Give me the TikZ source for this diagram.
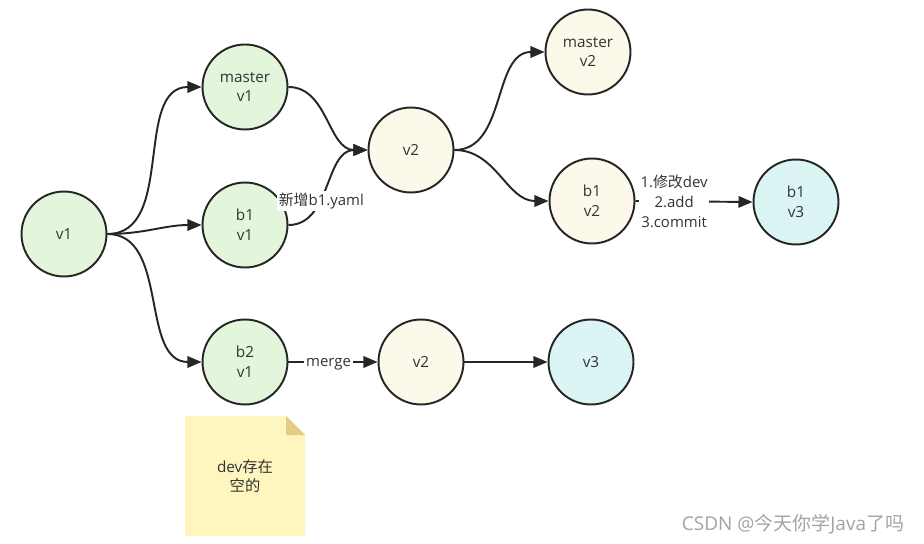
\documentclass[tikz,border=0pt]{standalone}
\usepackage{fontspec}
\setmainfont{Open Sans}
\newfontfamily\cjk{Noto Sans CJK SC}
\usepackage{tikz}
\usetikzlibrary{
    positioning,
    arrows.meta
}
\definecolor{greenfill}{HTML}{E3F5DB}
\definecolor{beigefill}{HTML}{FCF8EA}
\definecolor{cyanfill}{HTML}{DBF4F4}
\definecolor{notefill}{HTML}{FFF5BF}
\definecolor{foldfill}{HTML}{E3CD86}
\definecolor{linegray}{HTML}{262626}
\definecolor{textgray}{HTML}{333333}
\definecolor{markgray}{HTML}{A3A3A3}
\tikzset{
  commit/.style = {
      draw=linegray,
      circle,
      line width=1.1pt,
      minimum size=1.7cm,
      inner sep=0pt,
      align=center,
      text=textgray,
      font=\fontsize{8.7}{11.3}\selectfont
  },
  oldcommit/.style = {
      commit,
      fill=greenfill
  },
  midcommit/.style = {
      commit,
      fill=beigefill
  },
  newcommit/.style = {
      commit,
      fill=cyanfill
  },
  edge/.style = {
      draw=linegray,
      line width=1.1pt,
      -{Triangle[length=8pt,width=6.5pt]}
  },
  tag/.style = {
      fill=white,
      inner sep=1pt,
      align=center,
      text=textgray,
      font=\fontsize{8.5}{11.3}\selectfont
  },
  notetext/.style = {
      align=center,
      text=textgray,
      font=\fontsize{8.7}{11.3}\selectfont
  },
  wmark/.style = {
      text=markgray,
      font=\fontsize{10.8}{13}\selectfont
  }
}

\begin{document}
\begin{tikzpicture}[x=0.02cm, y=-0.02cm]
    \useasboundingbox (0,0) rectangle (924,544);
    % Nodes
    \node[oldcommit] (v1) at (64,234) {v1};
    \node[oldcommit] (m1) at (245,87) {master\\v1};
    \node[oldcommit] (b11) at (245,225) {b1\\v1};
    \node[oldcommit] (b21) at (245,362) {b2\\v1};
    \node[midcommit] (v2a) at (411,150) {v2};
    \node[midcommit] (m2) at (588,52) {master\\v2};
    \node[midcommit] (b12) at (592,201) {b1\\v2};
    \node[newcommit] (b13) at (796,202) {b1\\v3};
    \node[midcommit] (v2b) at (421,362) {v2};
    \node[newcommit] (v3) at (591,362) {v3};
    % Note
    \fill[notefill] (185,416) -- (286,416) -- (305,435) -- (305,536) -- (185,536) -- cycle;
    \fill[foldfill] (286,416) -- (305,435) -- (286,435) -- cycle;
    \node[notetext] (note) at (245,476) {dev{\cjk 存在}\\{\cjk 空的}};
    \node[wmark] (mark) at (793,524) {CSDN @{\cjk 今天你学}Java{\cjk 了吗}};
    % Edges
    \draw[edge] (v1.east) to[out=0, in=180] (m1.west);
    \draw[edge] (v1.east) to[out=0, in=180] (b11.west);
    \draw[edge] (v1.east) to[out=0, in=180] (b21.west);
    \draw[edge] (m1.east) to[out=0, in=180] (v2a.west);
    \draw[edge] (b11.east) to[out=0, in=180] node[tag, pos=0.38] {{\cjk 新增}b1.yaml} (v2a.west);
    \draw[edge] (v2a.east) to[out=0, in=180] (m2.west);
    \draw[edge] (v2a.east) to[out=0, in=180] (b12.west);
    \draw[edge] (b12.east) -- node[tag, pos=0.33] {1.{\cjk 修改}dev\\2.add\\3.commit} (b13.west);
    \draw[edge] (b21.east) -- node[tag, pos=0.45, yshift=-1pt] {merge} (v2b.west);
    \draw[edge] (v2b.east) -- (v3.west);
\end{tikzpicture}
\end{document}
